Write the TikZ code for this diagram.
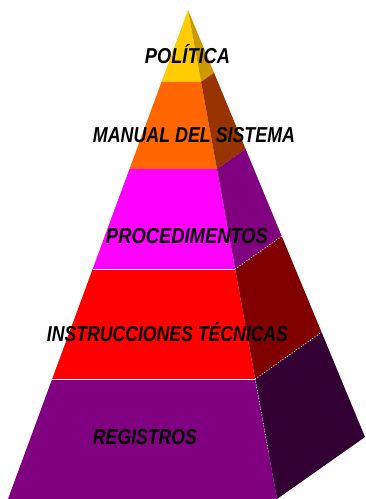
\documentclass[tikz,border=0pt]{standalone}
\usepackage{fontspec}
\usepackage{graphicx}
\setmainfont{Liberation Sans}
\usetikzlibrary{calc}
\definecolor{yelF}{HTML}{FFCC00}
\definecolor{yelS}{HTML}{CC9900}
\definecolor{oraF}{HTML}{FF6600}
\definecolor{oraS}{HTML}{993300}
\definecolor{magF}{HTML}{FF00FF}
\definecolor{magS}{HTML}{800080}
\definecolor{redF}{HTML}{FF0000}
\definecolor{redS}{HTML}{800000}
\definecolor{purF}{HTML}{800080}
\definecolor{purS}{HTML}{330033}
\begin{document}
\begin{tikzpicture}[x=1pt,y=-1pt,
  lbl/.style={font=\fontsize{21.6}{22}\selectfont\bfseries\itshape, text=black, inner sep=0pt, anchor=base},
  sep/.style={draw=white, line width=0.8pt},
  dotsep/.style={draw=white, line width=0.8pt, dotted}]
\useasboundingbox (0,0) rectangle (365,499);
\coordinate (A) at (188,10);
\coordinate (L5) at (8,499);
\coordinate (R5) at (277,499);
\coordinate (K5) at (365,437);
\coordinate (L1) at ($(A)!0.1472!(L5)$);
\coordinate (R1) at ($(A)!0.1472!(R5)$);
\coordinate (K1) at ($(A)!0.1472!(K5)$);
\coordinate (L2) at ($(A)!0.3252!(L5)$);
\coordinate (R2) at ($(A)!0.3252!(R5)$);
\coordinate (K2) at ($(A)!0.3252!(K5)$);
\coordinate (L3) at ($(A)!0.5297!(L5)$);
\coordinate (R3) at ($(A)!0.5297!(R5)$);
\coordinate (K3) at ($(A)!0.5297!(K5)$);
\coordinate (L4) at ($(A)!0.7546!(L5)$);
\coordinate (R4) at ($(A)!0.7546!(R5)$);
\coordinate (K4) at ($(A)!0.7546!(K5)$);
\coordinate (D4) at ($(A)!0.905!(R5)$);
% top layer
\fill[yelF] (A) -- (R1) -- (L1) -- cycle;
\fill[yelS] (A) -- (K1) -- (R1) -- cycle;
% layer 2
\fill[oraF] (L1) -- (R1) -- (R2) -- (L2) -- cycle;
\fill[oraS] (R1) -- (K1) -- (K2) -- (R2) -- cycle;
% layer 3
\fill[magF] (L2) -- (R2) -- (R3) -- (L3) -- cycle;
\fill[magS] (R2) -- (K2) -- (K3) -- (R3) -- cycle;
% layer 4
\fill[redF] (L3) -- (R3) -- (R4) -- (L4) -- cycle;
\fill[redS] (R3) -- (K3) -- (K4) -- (R4) -- cycle;
% layer 5
\fill[purF] (L4) -- (R4) -- (R5) -- (L5) -- cycle;
\fill[purS] (R4) -- (K4) -- (K5) -- (R5) -- cycle;
% separators
\draw[sep] (L3) -- (R3);
\draw[sep] (L4) -- (R4);
\draw[dotsep] (R3) -- (K3);
\draw[dotsep] (R4) -- (K4);
\draw[dotsep] (R4) -- (D4);
% labels
\node[lbl] (t1) at (187.5,63) {\resizebox{85pt}{\height}{POLÍTICA}};
\node[lbl] (t2) at (194,142) {\resizebox{202pt}{\height}{MANUAL DEL SISTEMA}};
\node[lbl] (t3) at (187,243) {\resizebox{162pt}{\height}{PROCEDIMENTOS}};
\node[lbl] (t4) at (167.5,341) {\resizebox{241pt}{\height}{INSTRUCCIONES TÉCNICAS}};
\node[lbl] (t5) at (145,444) {\resizebox{104pt}{\height}{REGISTROS}};
\end{tikzpicture}
\end{document}
